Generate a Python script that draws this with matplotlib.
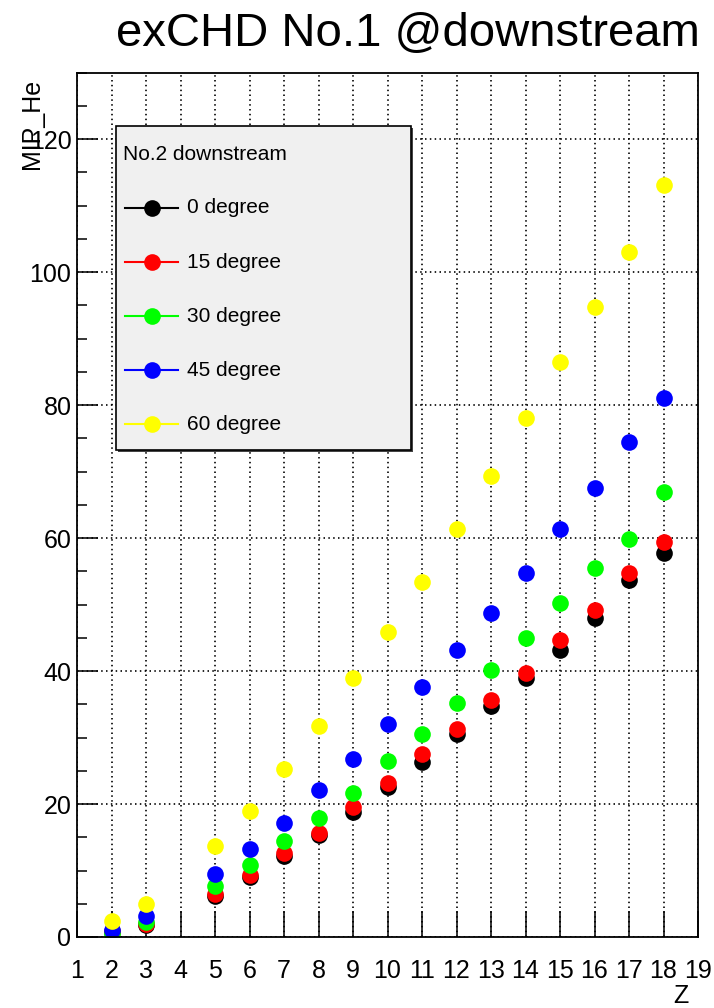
"""
exCHD No.1 @downstream : MIP_He vs Z for five incidence angles (ROOT-style plot).
"""
import matplotlib
matplotlib.use("Agg")
import matplotlib.pyplot as plt
from matplotlib.lines import Line2D
from matplotlib.patches import Rectangle
from matplotlib.ticker import MultipleLocator

plt.rcParams.update({
    "font.family": ["Liberation Sans", "DejaVu Sans"],
})

# ---- data ------------------------------------------------------------------
Z = [2, 3, 5, 6, 7, 8, 9, 10, 11, 12, 13, 14, 15, 16, 17, 18]
deg0 = [0.8, 1.8, 6.2, 9.0, 12.2, 15.3, 18.8, 22.6, 26.3, 30.5, 34.8, 39.0, 43.2, 48.0, 53.7, 57.7]
deg15 = [0.9, 2.0, 6.4, 9.3, 12.6, 15.6, 19.6, 23.2, 27.5, 31.3, 35.6, 39.7, 44.7, 49.2, 54.8, 59.4]
deg30 = [0.5, 2.3, 7.6, 10.8, 14.4, 17.9, 21.7, 26.4, 30.6, 35.2, 40.1, 45.0, 50.2, 55.5, 59.8, 66.9]
deg45 = [1.1, 3.2, 9.5, 13.3, 17.2, 22.1, 26.7, 32.1, 37.6, 43.1, 48.8, 54.8, 61.4, 67.5, 74.5, 81.0]
deg60 = [2.4, 5.0, 13.7, 18.9, 25.3, 31.8, 39.0, 45.9, 53.4, 61.4, 69.4, 78.0, 86.5, 94.8, 103.1, 113.1]

SERIES = [
    ("0 degree", deg0, "black"),
    ("15 degree", deg15, "red"),
    ("30 degree", deg30, "#00ff00"),
    ("45 degree", deg45, "blue"),
    ("60 degree", deg60, "yellow"),
]
LEGEND_HEADER = "No.2 downstream"
TITLE = "exCHD No.1 @downstream"

# ---- layout (pixels of a 714x1008 canvas) ----------------------------------
W, H = 714, 1008
MS = 12


def fx(px):
    return px / W


def fy(py):
    return 1 - py / H


fig = plt.figure(figsize=(W / 100, H / 100), dpi=100)
ax = fig.add_axes([fx(77), fy(937), (698 - 77) / W, (937 - 72.7) / H])

for label, vals, color in SERIES:
    ax.plot(Z, vals, linestyle="none", marker="o", markersize=MS,
            color=color, markeredgewidth=0, label=label)

ax.set_xlim(1, 19)
ax.xaxis.set_major_locator(MultipleLocator(1))
ax.yaxis.set_minor_locator(MultipleLocator(5))
ax.set_yticks(range(0, 121, 20))
ax.set_ylim(0, 130)

ax.tick_params(axis="x", which="major", direction="in", length=19, width=1.1,
               labelsize=18, pad=15.5)
ax.tick_params(axis="y", which="major", direction="in", length=15, width=1.1,
               labelsize=18, pad=4)
ax.tick_params(axis="y", which="minor", direction="in", length=7.2, width=1.1)
ax.grid(True, which="major", color="black", linestyle=(0, (0.9, 2.0)), linewidth=1.2)
for sp in ax.spines.values():
    sp.set_linewidth(1.3)

# ROOT-style titles
fig.text(fx(700), fy(34), TITLE, ha="right", va="center", fontsize=34)
fig.text(fx(32), fy(79), "MIP_He", rotation=90, ha="center", va="top", fontsize=18)
fig.text(fx(689), fy(996), "Z", ha="right", va="center", fontsize=18)

# ---- legend box drawn by hand (ROOT TLegend look) ---------------------------
bx0, by0, bx1, by1 = 116, 126, 411, 450
fig.add_artist(Rectangle((fx(bx0 + 2), fy(by1 + 2)), (bx1 - bx0) / W, (by1 - by0) / H,
                         transform=fig.transFigure, facecolor="#444444",
                         edgecolor="none", zorder=5))
fig.add_artist(Rectangle((fx(bx0), fy(by1)), (bx1 - bx0) / W, (by1 - by0) / H,
                         transform=fig.transFigure, facecolor="#f0f0f0",
                         edgecolor="black", linewidth=1.2, zorder=6))
fig.text(fx(123), fy(155), LEGEND_HEADER, ha="left", va="center", fontsize=15, zorder=7)
for i, (label, _, color) in enumerate(SERIES):
    yy = fy(208 + 54 * i)
    fig.add_artist(Line2D([fx(125), fx(178)], [yy, yy], transform=fig.transFigure,
                          color=color, linewidth=1.5, zorder=7))
    fig.add_artist(Line2D([fx(151.5)], [yy], transform=fig.transFigure, color=color,
                          marker="o", markersize=MS, markeredgewidth=0, zorder=8))
    fig.text(fx(187), yy, label, ha="left", va="center", fontsize=15, zorder=7)

fig.savefig("out.png", dpi=100)
